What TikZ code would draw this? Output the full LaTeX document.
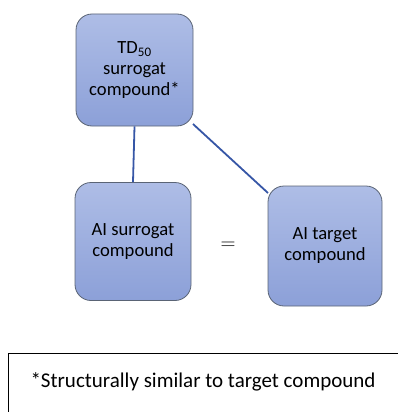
\documentclass[tikz,border=0pt]{standalone}
\usepackage{fontspec}
\setmainfont{Carlito}
\definecolor{boxtop}{HTML}{AEBDE6}
\definecolor{boxbot}{HTML}{8CA0D8}
\definecolor{boxline}{HTML}{5A6475}
\definecolor{conn}{HTML}{3656A6}
\begin{document}
\begin{tikzpicture}[x=1pt,y=-1pt,
  cbox/.style={rounded corners=16pt, draw=boxline, line width=0.8pt, top color=boxtop, bottom color=boxbot,
    align=center, font=\fontsize{18.6}{21}\selectfont, inner sep=0pt},
  connline/.style={draw=conn, line width=1.8pt}]
\useasboundingbox (0,0) rectangle (398,412);
\node[cbox, minimum width=117pt, minimum height=112pt] (td) at (134.5,70) {TD\textsubscript{50}\\surrogat\\compound*};
\node[cbox, minimum width=116pt, minimum height=118pt] (ais) at (133,241.5) {AI surrogat\\compound};
\node[cbox, minimum width=114pt, minimum height=120pt] (ait) at (325,246) {AI target\\compound};
\node[font=\fontsize{20}{22}\selectfont] (eq) at (228,246) {$=$};
\coordinate (tdr) at (193,124);
\coordinate (aitl) at (268,193);
\draw[connline] (td.south) -- (ais.north);
\draw[connline] (tdr) -- (aitl);
\node[draw=black, line width=0.8pt, minimum width=392pt, minimum height=62pt, anchor=north west, inner sep=0pt] (note) at (8,353) {};
\node[anchor=west, font=\fontsize{21}{23}\selectfont] (notetxt) at (27,382) {*Structurally similar to target compound};
\end{tikzpicture}
\end{document}
